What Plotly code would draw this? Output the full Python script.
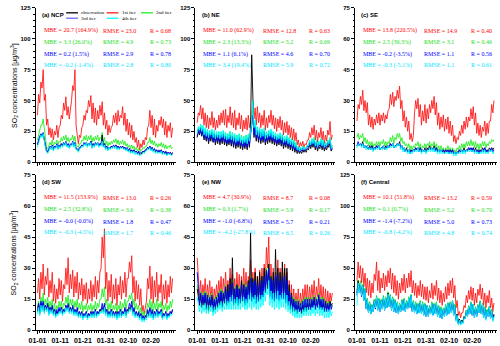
import plotly.graph_objects as go
import pandas as pd

# 12-hourly time axis, 2020-01-01 .. 2020-02-29
times = pd.date_range("2020-01-01", periods=120, freq="12h")

# ---------------- (a) NCP ----------------
A_it1 = [38,55,48,65,60,75,50,55,30,35,22,28,20,27,18,25,22,30,20,28,
         30,38,35,48,42,53,38,45,35,42,50,62,58,75,30,22,15,22,20,28,
         30,38,34,42,40,50,45,54,35,48,32,44,30,42,35,46,38,49,30,40,
         27,34,22,30,24,28,30,38,32,40,30,42,33,38,36,45,30,40,25,35,
         22,32,20,30,18,25,16,20,12,18,10,15,12,18,14,20,18,28,30,42,
         28,38,22,35,20,30,25,34,30,37,28,35,22,33,20,30,25,32,20,28]
A_it2 = [18,24,26,30,30,35,24,20,12,11,13,16,14,18,13,16,15,18,14,17,
         16,20,17,21,18,22,17,20,16,19,18,22,17,21,14,13,12,15,15,18,
         17,21,18,22,17,21,18,22,16,20,17,21,18,22,17,20,19,24,16,20,
         14,17,13,16,14,17,15,18,16,19,15,18,14,17,15,18,14,17,13,15,
         12,14,11,14,11,13,10,12,9,11,8,10,10,12,11,13,13,16,16,20,
         15,18,14,17,13,15,12,15,13,16,12,15,11,14,11,13,12,14,11,12]
A_obs = [14,18,20,22,21,23,18,14,9,8,10,12,11,13,10,13,12,14,11,13,
         12,15,13,15,14,16,13,15,12,14,14,16,13,15,11,10,9,11,12,14,
         13,15,14,16,13,15,14,17,12,15,13,15,14,16,13,15,15,22,13,15,
         11,13,10,12,11,13,12,13,12,14,11,13,11,12,12,13,11,12,10,11,
         9,11,8,10,8,10,8,9,7,8,6,7,7,9,8,10,10,12,11,13,
         10,12,9,11,8,10,8,9,8,10,7,9,7,8,6,8,7,8,6,7]
A_it3 = [15,19,21,23,22,24,17,13,9,9,11,13,12,14,11,13,12,15,12,14,
         13,15,14,16,14,17,13,15,12,15,14,17,13,16,11,11,10,12,12,14,
         13,16,14,16,14,15,14,17,13,15,13,16,14,16,13,15,14,18,13,15,
         11,13,11,12,11,13,12,14,12,14,12,13,11,13,12,13,11,12,10,12,
         9,11,9,10,8,10,8,9,7,9,7,8,8,9,8,10,10,12,11,13,
         10,12,9,11,9,10,8,10,8,10,8,9,7,9,7,8,7,8,6,8]
A_it4 = [12,17,19,22,20,23,16,12,8,7,9,12,10,13,9,12,11,14,10,13,
         11,14,12,15,13,16,12,14,11,14,13,16,12,15,10,10,8,11,11,13,
         12,15,13,16,12,15,13,16,11,14,12,15,13,16,12,14,13,17,12,14,
         10,12,9,12,10,12,11,13,11,13,10,12,10,12,11,12,10,11,9,11,
         8,10,7,9,7,9,6,8,6,7,5,6,6,8,7,9,9,11,10,12,
         9,11,8,10,7,9,7,8,7,9,6,8,6,7,5,7,6,7,5,6]
A_stats = [("MBE = 20.7 (164.9%)", "RMSE = 23.0", "R = 0.68"),
           ("MBE = 3.3 (26.0%)", "RMSE = 4.9", "R = 0.73"),
           ("MBE = 0.2 (1.5%)", "RMSE = 2.9", "R = 0.78"),
           ("MBE = -0.2 (-1.4%)", "RMSE = 2.8", "R = 0.80")]

# ---------------- (b) NE ----------------
B_it1 = [32,40,38,46,35,44,30,40,28,38,27,36,30,41,28,36,26,34,28,38,
         30,40,32,42,30,43,28,38,32,45,30,40,28,42,26,36,30,40,27,38,
         25,34,27,36,26,38,28,35,38,50,35,44,30,45,32,40,28,38,30,42,
         26,36,28,38,32,42,30,38,27,36,25,35,28,37,26,34,22,32,24,33,
         22,30,20,28,18,27,17,24,14,18,12,16,13,17,12,15,14,18,18,24,
         20,28,22,30,18,26,16,24,20,28,18,25,15,22,17,26,22,33,18,22]
B_it2 = [22,28,25,30,24,29,22,27,20,26,19,25,21,26,20,25,18,24,19,24,
         18,24,19,25,18,24,17,23,19,25,18,24,17,23,16,22,17,23,16,22,
         15,21,16,22,15,22,17,23,30,45,25,32,22,28,21,27,20,26,21,27,
         18,24,19,25,20,26,19,24,18,23,17,22,18,23,17,22,15,20,16,21,
         15,20,14,19,13,18,12,16,10,13,9,12,10,13,10,12,11,14,13,17,
         14,19,15,20,13,18,12,17,14,19,13,18,12,16,13,18,15,20,12,14]
B_obs = [20,25,22,26,21,25,18,23,17,22,15,21,17,22,16,21,14,20,15,20,
         14,20,15,21,14,19,13,18,14,20,13,19,12,18,11,17,12,18,11,16,
         10,16,11,17,10,18,12,30,87,40,20,28,17,24,16,23,15,22,16,23,
         14,20,15,21,16,22,15,20,14,19,13,18,14,19,13,18,11,16,12,17,
         11,16,10,15,9,14,8,12,7,10,7,9,7,10,8,10,8,11,10,14,
         11,15,12,16,10,14,9,13,11,15,10,14,9,12,10,14,12,16,9,11]
B_it3 = [21,27,23,28,22,27,20,25,18,24,17,23,19,24,17,23,16,22,17,22,
         16,22,17,23,16,21,15,20,16,22,15,21,14,20,13,19,14,20,13,18,
         12,18,13,19,12,20,14,22,25,38,22,29,19,26,18,25,17,24,18,25,
         16,22,17,23,18,24,17,22,16,21,15,20,16,21,15,20,13,18,14,19,
         13,18,12,17,11,16,10,14,9,12,8,11,9,12,9,11,10,13,12,16,
         13,17,14,18,12,16,11,15,13,17,12,16,11,14,12,16,14,18,10,12]
B_it4 = [23,29,26,31,25,30,22,28,21,27,20,26,22,27,20,26,19,25,20,25,
         19,25,20,26,19,24,18,23,19,25,18,24,17,23,16,22,17,23,16,21,
         15,21,16,22,15,23,17,26,32,50,28,34,22,29,21,28,20,27,21,28,
         19,25,20,26,21,27,20,25,19,24,18,23,19,24,18,23,16,21,17,22,
         15,20,14,19,13,18,12,16,10,13,9,12,10,13,10,12,11,14,13,18,
         14,19,15,20,13,18,12,17,14,19,13,18,12,16,13,18,15,20,11,13]
B_stats = [("MBE = 11.0 (62.9%)", "RMSE = 12.8", "R = 0.63"),
           ("MBE = 2.3 (13.3%)", "RMSE = 5.2", "R = 0.69"),
           ("MBE = 1.1 (6.1%)", "RMSE = 4.6", "R = 0.70"),
           ("MBE = 3.4 (19.4%)", "RMSE = 5.9", "R = 0.72")]

# ---------------- (c) SE ----------------
C_it1 = [20,28,26,32,28,35,25,30,24,29,18,23,17,22,16,21,18,23,19,24,
         18,23,20,24,19,23,21,25,26,33,28,34,27,32,30,35,31,37,26,30,
         20,25,17,22,15,20,11,14,10,13,24,30,26,31,22,28,18,25,20,28,
         19,26,21,28,24,30,26,32,23,29,18,24,16,22,17,23,15,21,16,22,
         14,20,13,18,10,13,9,12,11,15,13,18,14,20,16,22,17,22,20,26,
         21,27,18,24,14,19,13,18,12,17,15,20,13,19,14,20,20,28,24,30]
C_it2 = [12,14,11,13,12,14,10,12,9,11,8,10,8,10,7,9,8,10,8,10,
         8,10,9,11,8,10,8,10,9,12,10,13,9,12,11,14,12,14,10,12,
         9,10,8,9,7,9,6,8,6,8,7,9,8,10,7,9,6,8,7,9,
         7,9,8,10,7,9,8,10,7,9,6,8,6,8,6,7,5,7,6,8,
         6,7,5,7,5,6,5,7,6,8,6,9,7,9,7,10,8,10,8,11,
         8,10,7,10,7,9,6,9,7,10,8,10,7,9,8,10,9,11,10,11]
C_obs = [8,9,8,9,8,10,7,8,7,8,6,8,7,8,6,7,7,8,7,8,
         6,7,7,8,6,8,7,8,7,9,8,9,7,8,8,9,8,10,7,8,
         6,7,5,7,5,6,5,6,5,6,6,7,6,7,6,7,5,6,5,7,
         5,7,6,8,6,7,6,8,6,7,5,6,5,6,5,6,5,6,5,6,
         5,6,5,6,4,5,4,5,5,6,5,6,5,7,5,6,6,7,6,7,
         6,7,5,7,5,6,5,6,5,7,6,7,5,6,5,7,6,7,6,7]
C_it3 = [8,10,8,9,8,9,7,8,7,8,6,7,6,8,6,7,6,8,7,8,
         6,7,7,8,6,7,7,8,7,9,8,9,7,8,8,9,8,9,7,8,
         6,7,5,6,5,6,4,6,5,6,5,7,6,7,5,7,5,6,5,6,
         5,6,6,7,6,7,6,7,5,7,5,6,5,6,5,6,4,6,5,6,
         4,6,4,6,4,5,4,5,4,6,5,6,5,6,5,6,5,7,6,7,
         5,7,5,6,5,6,4,6,5,6,5,7,5,6,5,6,5,7,5,6]
C_it4 = [7,9,8,9,7,9,7,8,6,8,6,7,6,7,5,7,6,7,6,8,
         6,7,6,8,6,7,6,8,7,8,7,9,7,8,7,9,8,9,6,8,
         5,7,5,6,4,6,4,5,4,6,5,6,5,7,5,6,4,6,5,6,
         4,6,5,7,5,7,5,7,5,6,4,6,4,6,4,5,4,5,4,5,
         4,5,4,5,3,5,3,5,4,5,4,6,4,6,4,6,5,6,5,6,
         5,6,4,6,4,5,4,5,4,6,4,6,4,5,4,6,5,6,4,5]
C_stats = [("MBE = 13.8 (220.5%)", "RMSE = 14.9", "R = 0.40"),
           ("MBE = 2.5 (39.3%)", "RMSE = 3.1", "R = 0.46"),
           ("MBE = -0.2 (-3.5%)", "RMSE = 1.1", "R = 0.56"),
           ("MBE = -0.3 (-5.1%)", "RMSE = 1.1", "R = 0.61")]

# ---------------- (d) SW ----------------
D_it1 = [18,25,15,28,20,32,17,26,22,30,16,24,18,28,14,22,13,20,15,25,
         17,24,14,22,20,30,22,35,18,27,20,29,16,26,18,28,15,23,17,25,
         14,22,15,23,13,20,15,24,14,22,16,26,15,24,18,28,30,45,35,49,
         20,28,14,24,16,27,13,22,15,25,12,22,17,26,15,24,18,28,16,25,
         25,33,28,36,18,26,14,24,15,22,12,20,9,12,8,12,14,25,20,31,
         15,26,13,24,16,28,14,22,18,27,12,22,15,24,13,22,16,26,18,25]
D_it2 = [11,14,10,16,12,18,11,15,12,16,10,14,11,15,9,13,9,12,10,14,
         11,14,10,13,12,16,13,17,11,15,12,15,10,14,11,15,10,13,10,14,
         9,12,10,13,9,12,10,13,9,12,10,14,10,13,11,15,15,20,16,21,
         12,15,9,13,10,14,9,12,10,13,8,12,10,14,9,13,11,15,10,14,
         14,17,15,18,12,15,10,13,10,12,8,11,7,9,7,9,9,13,11,15,
         10,14,9,13,10,15,9,13,11,14,8,12,10,13,9,12,10,14,11,15]
D_obs = [9,12,8,13,10,13,9,12,10,12,8,11,9,11,8,10,7,9,8,10,
         9,11,8,10,9,12,10,12,9,11,9,11,8,10,8,10,7,9,7,9,
         6,8,7,9,6,8,7,9,7,9,7,10,7,9,8,10,9,11,9,12,
         8,10,7,9,7,10,7,9,7,9,6,9,7,10,7,9,8,10,7,10,
         9,11,10,12,8,10,7,9,7,8,6,8,5,7,5,7,6,9,7,10,
         7,9,6,9,7,10,7,9,8,10,6,8,7,9,6,8,7,9,8,10]
D_it3 = [10,13,9,14,11,14,10,12,10,13,8,11,9,12,8,10,7,10,8,11,
         9,11,8,10,9,12,10,13,9,11,9,12,8,10,8,11,7,9,7,9,
         6,8,7,9,6,8,7,9,7,9,7,10,7,9,8,10,10,13,10,13,
         8,10,7,9,7,10,7,9,7,9,6,9,7,10,7,9,8,11,8,10,
         10,13,11,14,9,11,7,9,7,9,6,8,5,7,5,7,7,10,8,11,
         7,10,6,9,7,10,7,9,8,10,6,8,7,9,6,8,7,9,8,10]
D_it4 = [8,11,7,12,9,12,8,11,9,11,7,10,8,10,7,9,6,8,7,9,
         8,10,7,9,8,11,9,11,8,10,8,10,7,9,7,9,6,8,6,8,
         5,7,6,8,5,7,6,8,6,8,6,9,6,8,7,9,8,10,8,11,
         7,9,6,8,6,9,6,8,6,8,5,8,6,9,6,8,7,9,6,9,
         8,10,9,11,7,9,6,8,6,7,5,7,4,6,4,6,5,8,6,9,
         6,8,5,8,6,9,6,8,7,9,5,7,6,8,5,7,6,8,7,8]
D_stats = [("MBE = 11.5 (153.9%)", "RMSE = 13.0", "R = 0.26"),
           ("MBE = 2.5 (32.8%)", "RMSE = 3.6", "R = 0.38"),
           ("MBE = -0.0 (-0.0%)", "RMSE = 1.8", "R = 0.47"),
           ("MBE = -0.3 (-4.5%)", "RMSE = 1.7", "R = 0.46")]

# ---------------- (e) NW ----------------
E_it1 = [35,22,16,24,15,22,17,25,14,22,16,24,15,21,13,20,15,22,16,24,
         17,26,15,25,18,28,16,24,19,30,17,27,16,25,18,28,17,27,16,26,
         18,30,17,28,16,26,20,34,17,28,18,30,16,26,17,29,18,30,20,32,
         24,40,30,45,20,32,18,30,17,28,19,34,18,30,17,30,18,32,16,28,
         14,24,13,22,11,20,12,18,12,20,11,18,12,20,13,22,14,22,13,21,
         14,22,15,24,13,21,16,25,14,22,13,21,12,20,11,19,12,18,14,18]
E_it2 = [22,18,14,19,13,18,14,19,12,18,13,17,13,18,11,16,12,17,13,19,
         14,20,13,19,15,22,14,20,15,23,15,24,14,21,15,22,14,21,15,23,
         16,23,14,22,15,24,16,26,15,24,16,25,14,23,15,24,16,25,17,27,
         20,30,24,32,17,26,16,25,15,26,16,28,15,25,16,27,16,27,14,25,
         13,20,12,18,11,16,11,15,10,15,10,14,10,15,11,16,11,16,11,16,
         11,16,12,17,11,16,12,18,11,16,11,16,10,15,10,14,10,14,11,13]
E_obs = [20,16,12,17,11,16,12,17,10,16,9,15,11,16,9,14,10,15,11,17,
         12,18,11,17,13,20,12,22,13,25,14,35,12,20,13,22,12,20,13,24,
         14,22,12,20,13,24,15,47,14,25,15,28,13,26,14,28,15,26,16,30,
         18,28,20,32,16,26,15,28,14,39,17,30,15,28,16,33,17,30,14,30,
         12,22,10,18,9,14,9,12,8,12,9,11,8,12,9,12,9,13,10,13,
         10,14,11,15,10,13,12,16,11,14,10,13,9,13,10,12,10,14,12,13]
E_it3 = [28,17,13,18,12,17,13,18,11,17,12,16,12,17,10,15,11,16,12,18,
         13,19,12,18,14,21,13,19,14,22,14,23,13,20,14,21,13,20,14,22,
         15,22,13,21,14,23,15,25,14,23,15,24,13,22,14,23,15,24,16,26,
         19,29,22,30,16,25,15,24,14,26,15,27,14,24,15,26,15,26,13,24,
         12,19,11,17,10,15,10,14,9,14,9,13,9,14,10,15,10,15,10,15,
         10,15,11,16,10,15,11,17,10,15,10,15,9,14,9,13,9,13,10,12]
E_it4 = [16,12,9,13,8,12,9,13,8,12,8,12,9,12,7,11,8,12,9,13,
         10,14,9,13,10,15,10,14,10,16,10,17,10,15,10,16,10,15,10,16,
         11,16,10,15,10,17,11,18,10,16,11,17,10,16,10,17,11,17,12,19,
         14,21,17,24,12,19,11,18,10,18,11,19,10,17,11,18,11,18,10,17,
         9,14,8,12,7,11,6,10,6,10,6,9,6,10,7,11,7,11,7,11,
         7,11,8,12,7,11,8,12,7,11,7,11,6,10,6,10,6,10,7,9]
E_stats = [("MBE = 4.7 (30.9%)", "RMSE = 8.7", "R = 0.08"),
           ("MBE = 0.3 (1.7%)", "RMSE = 5.9", "R = 0.17"),
           ("MBE = -1.0 (-6.8%)", "RMSE = 5.7", "R = 0.21"),
           ("MBE = -4.2 (-27.8%)", "RMSE = 6.5", "R = 0.26")]

# ---------------- (f) Central ----------------
F_it1 = [40,55,42,52,38,50,35,46,30,42,28,40,26,38,30,45,40,55,32,48,
         30,42,34,46,32,44,35,48,38,50,33,46,30,44,28,40,25,38,30,42,
         32,45,30,42,34,46,35,48,30,40,28,38,26,36,28,40,27,37,25,35,
         24,35,22,32,26,38,25,36,28,40,24,34,22,32,20,30,23,35,25,38,
         28,40,30,42,26,36,18,24,12,15,10,14,14,20,18,28,22,32,25,35,
         24,34,20,30,22,33,28,37,25,34,20,30,18,28,22,32,18,26,15,22]
F_it2 = [32,40,34,40,30,37,26,34,19,26,15,23,15,21,17,25,19,28,18,26,
         17,25,19,28,18,27,20,31,21,29,18,27,17,25,16,23,15,22,17,25,
         18,26,17,24,19,27,20,29,17,24,16,23,15,22,16,24,15,23,14,22,
         13,20,13,20,15,23,14,22,15,23,13,20,12,19,11,18,13,21,14,22,
         15,23,16,24,14,21,9,13,6,9,5,8,7,11,10,16,13,20,15,23,
         14,21,12,19,13,21,16,24,14,22,12,19,10,17,12,19,11,17,9,12]
F_obs = [30,40,32,38,28,36,25,33,18,25,15,22,14,20,16,24,18,27,17,25,
         16,24,18,27,17,26,19,30,20,28,17,26,16,24,15,22,14,21,16,24,
         17,25,16,23,18,26,19,28,16,23,15,22,14,21,15,23,14,22,13,21,
         12,20,12,19,14,22,13,21,14,22,12,19,11,18,10,17,12,20,13,22,
         14,22,15,24,13,20,9,13,6,9,5,8,7,11,10,16,12,19,14,22,
         13,21,11,18,12,20,15,23,14,21,11,18,10,16,12,19,10,16,9,13]
F_it3 = [28,38,30,37,27,35,24,32,17,24,14,21,13,19,15,23,17,26,16,24,
         15,23,17,26,16,25,18,28,19,27,16,25,15,23,14,21,13,20,15,23,
         16,24,15,22,17,25,18,27,15,22,14,21,13,20,14,22,13,21,12,20,
         11,19,11,18,13,21,12,20,13,21,11,18,10,17,9,16,11,19,12,21,
         13,21,14,23,12,19,8,12,5,8,5,7,6,10,9,15,11,18,13,21,
         12,20,10,17,11,19,14,22,13,20,10,17,9,15,11,18,9,15,8,12]
F_it4 = [20,38,30,38,28,36,24,33,17,25,14,22,13,20,15,24,18,27,16,25,
         15,24,17,27,16,26,18,29,19,28,16,26,15,24,14,22,13,21,15,24,
         16,25,15,23,17,26,18,28,15,23,14,22,13,21,14,23,13,22,12,21,
         11,20,11,19,13,22,12,21,13,22,11,19,10,18,9,17,11,20,12,22,
         13,22,14,24,12,20,7,12,4,8,4,7,5,10,9,16,11,19,13,22,
         12,21,10,18,11,20,14,23,13,21,10,18,8,16,11,19,9,16,7,11]
F_stats = [("MBE = 10.1 (51.8%)", "RMSE = 13.2", "R = 0.59"),
           ("MBE = 0.1 (0.7%)", "RMSE = 5.2", "R = 0.70"),
           ("MBE = -1.4 (-7.2%)", "RMSE = 5.0", "R = 0.73"),
           ("MBE = -0.8 (-4.2%)", "RMSE = 4.8", "R = 0.74")]

panel_titles = ["(a) NCP", "(b) NE", "(c) SE", "(d) SW", "(e) NW", "(f) Central"]
y_max = [125, 125, 75, 75, 75, 125]
y_major = [25, 25, 15, 15, 15, 25]
series_names = ["observation", "1st iter", "2nd iter", "3rd iter", "4th iter"]
x_tick_labels_dates = ["2020-01-01", "2020-01-11", "2020-01-21", "2020-01-31", "2020-02-10", "2020-02-20"]

panels = [
    dict(obs=A_obs, it1=A_it1, it2=A_it2, it3=A_it3, it4=A_it4, stats=A_stats),
    dict(obs=B_obs, it1=B_it1, it2=B_it2, it3=B_it3, it4=B_it4, stats=B_stats),
    dict(obs=C_obs, it1=C_it1, it2=C_it2, it3=C_it3, it4=C_it4, stats=C_stats),
    dict(obs=D_obs, it1=D_it1, it2=D_it2, it3=D_it3, it4=D_it4, stats=D_stats),
    dict(obs=E_obs, it1=E_it1, it2=E_it2, it3=E_it3, it4=E_it4, stats=E_stats),
    dict(obs=F_obs, it1=F_it1, it2=F_it2, it3=F_it3, it4=F_it4, stats=F_stats),
]

COL = {"obs": "#000000", "it1": "#FF1A1A", "it2": "#22EE22", "it3": "#0000FF", "it4": "#00FFFF"}
STAT_COL = ["#FF0000", "#22DD22", "#0000FF", "#00E5FF"]
SANS = "Arial, Liberation Sans, sans-serif"
SERIF = "Times New Roman, Liberation Serif, serif"

W, H = 500, 346
cols_px = [(29, 171), (191, 333), (353, 497)]
rows_px = [(5, 162), (175, 333)]

fig = go.Figure()
layout = {}
annotations = []
shapes = []

for i, p in enumerate(panels):
    r, c = divmod(i, 3)
    n = "" if i == 0 else str(i + 1)
    xr, yr = "x" + n, "y" + n
    for key in ["it1", "it2", "obs", "it3", "it4"]:
        vals = p[key]
        fig.add_trace(go.Scatter(
            x=times[:len(vals)], y=vals, mode="lines", xaxis=xr, yaxis=yr,
            line=dict(color=COL[key], width=0.9), showlegend=False, hoverinfo="skip"))
    l, rr = cols_px[c]
    t, b = rows_px[r]
    layout["xaxis" + n] = dict(
        domain=[l / W, rr / W], anchor=yr, type="date",
        range=["2019-12-31 04:00", "2020-03-01 20:00"],
        tickvals=x_tick_labels_dates, tickformat="%m-%d",
        showticklabels=(r == 1), ticks="outside", ticklen=3, tickwidth=0.8,
        tickcolor="black", showline=True, linecolor="black", linewidth=0.8,
        showgrid=False, zeroline=False,
        minor=dict(dtick=86400000, tick0="2020-01-01", ticks="outside", ticklen=2,
                   tickwidth=0.6, tickcolor="black", showgrid=False),
        tickfont=dict(family=SANS, size=7, color="black", weight="bold"),
    )
    layout["yaxis" + n] = dict(
        domain=[1 - b / H, 1 - t / H], anchor=xr, range=[0, y_max[i]],
        dtick=y_major[i], tick0=0, ticks="outside", ticklen=3, tickwidth=0.8,
        tickcolor="black", showline=True, linecolor="black", linewidth=0.8,
        showgrid=False, zeroline=False,
        minor=dict(dtick=y_major[i] / 5, ticks="outside", ticklen=1.5,
                   tickwidth=0.6, tickcolor="black", showgrid=False),
        tickfont=dict(family=SANS, size=6, color="black", weight="bold"),
    )
    annotations.append(dict(
        text=panel_titles[i], xref=xr + " domain", yref=yr + " domain",
        x=0.03, y=0.955, xanchor="left", yanchor="middle", showarrow=False,
        font=dict(family=SANS, size=6, color="black", weight="bold")))
    for k, (mbe, rmse, rr_) in enumerate(p["stats"]):
        yy = [0.853, 0.777, 0.700, 0.628][k]
        for xx, txt in [(0.043, mbe), (0.47, rmse), (0.80, rr_)]:
            annotations.append(dict(
                text=txt, xref=xr + " domain", yref=yr + " domain",
                x=xx, y=yy, xanchor="left", yanchor="middle", showarrow=False,
                font=dict(family=SERIF, size=6, color=STAT_COL[k])))
    if c == 0:
        annotations.append(dict(
            text="SO<sub>2</sub> concentrations [μg/m<sup>3</sup>]",
            xref="paper", yref="paper", x=7 / W, y=1 - (t + b) / 2 / H,
            textangle=-90, showarrow=False, xanchor="center", yanchor="middle",
            font=dict(family=SANS, size=7, color="black")))

# manual legend inside panel (a)
leg_items = [
    ("observation", COL["obs"], 60, 10),
    ("1st iter", COL["it1"], 101, 10),
    ("2nd iter", COL["it2"], 136, 10),
    ("3rd iter", "#6A6AFF", 60, 15.5),
    ("4th iter", COL["it4"], 101, 15.5),
]
for name, col, x0, y0 in leg_items:
    shapes.append(dict(type="line", xref="paper", yref="paper",
                       x0=x0 / W, x1=(x0 + 12) / W, y0=1 - y0 / H, y1=1 - y0 / H,
                       line=dict(color=col, width=1.3)))
    annotations.append(dict(text=name, xref="paper", yref="paper",
                            x=(x0 + 13.5) / W, y=1 - y0 / H, xanchor="left",
                            yanchor="middle", showarrow=False,
                            font=dict(family=SERIF, size=5, color="black")))

fig.update_layout(
    width=W, height=H, margin=dict(l=0, r=0, t=0, b=0),
    paper_bgcolor="white", plot_bgcolor="white",
    annotations=annotations, shapes=shapes, showlegend=False,
    **layout)

fig.write_html("out.html", config={"displayModeBar": False},
               post_script="document.body.style.margin='0px';document.body.style.padding='0px';")
